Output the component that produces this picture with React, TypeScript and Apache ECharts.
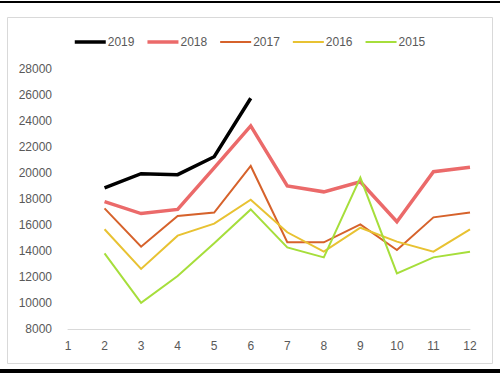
import React, { useEffect, useRef } from "react";
import * as echarts from "echarts";

const months = ["1", "2", "3", "4", "5", "6", "7", "8", "9", "10", "11", "12"];
const s2019 = [null, 18850, 19950, 19870, 21250, 25750, null, null, null, null, null, null];
const s2018 = [null, 17800, 16880, 17200, 20400, 23620, 19000, 18550, 19330, 16250, 20100, 20440];
const s2017 = [null, 17280, 14330, 16690, 16960, 20540, 14670, 14670, 16050, 14080, 16590, 16970];
const s2016 = [null, 15670, 12620, 15180, 16100, 17950, 15440, 13950, 15790, 14720, 13950, 15670];
const s2015 = [null, 13820, 10020, 12080, 14600, 17200, 14280, 13510, 19640, 12280, 13510, 13950];
const yTicks = { min: 8000, max: 28000, interval: 2000 };

const thick = "path://M0,0h31v3.5h-31z";
const thin = "path://M0,0h31v2h-31z";

export default function App() {
  const ref = useRef<HTMLDivElement>(null);
  useEffect(() => {
    const chart = echarts.init(ref.current!, null, { renderer: "svg" });
    const mk = (name: string, data: any[], color: string, width: number) => ({
      name,
      type: "line",
      data,
      symbol: "none",
      showSymbol: false,
      connectNulls: false,
      lineStyle: { color, width, join: "miter" },
      itemStyle: { color },
    });
    chart.setOption({
      animation: false,
      backgroundColor: "#ffffff",
      textStyle: { fontFamily: "Liberation Sans, Arial, sans-serif" },
      graphic: [
        { type: "line", shape: { x1: 0, y1: 2, x2: 500, y2: 2 }, style: { stroke: "#000", lineWidth: 2 } },
        { type: "line", shape: { x1: 0, y1: 371, x2: 500, y2: 371 }, style: { stroke: "#000", lineWidth: 4 } },
        { type: "rect", shape: { x: 7.5, y: 17.5, width: 485, height: 346 }, style: { fill: "none", stroke: "#D9D9D9", lineWidth: 1 } },
      ],
      legend: {
        top: 31,
        left: "center",
        itemWidth: 31,
        itemHeight: 12,
        itemGap: 13,
        symbolKeepAspect: true,
        textStyle: { color: "#595959", fontSize: 12, padding: [0, 0, 0, -3] },
        data: [
          { name: "2019", icon: thick },
          { name: "2018", icon: thick },
          { name: "2017", icon: thin },
          { name: "2016", icon: thin },
          { name: "2015", icon: thin },
        ],
      },
      grid: { left: 68, right: 30, top: 69, bottom: 46, containLabel: false },
      xAxis: {
        type: "category",
        data: months,
        boundaryGap: false,
        axisLine: { lineStyle: { color: "#D9D9D9", width: 1 } },
        axisTick: { show: false },
        axisLabel: { color: "#595959", fontSize: 12, margin: 11 },
        splitLine: { show: false },
      },
      yAxis: {
        type: "value",
        min: yTicks.min,
        max: yTicks.max,
        interval: yTicks.interval,
        axisLine: { show: false },
        axisTick: { show: false },
        axisLabel: { color: "#595959", fontSize: 12, margin: 16, formatter: (v: number) => String(v) },
        splitLine: { show: false },
      },
      series: [
        mk("2019", s2019, "#000000", 3.5),
        mk("2018", s2018, "#EB6A6A", 3.5),
        mk("2017", s2017, "#D6622B", 2),
        mk("2016", s2016, "#E8C232", 2),
        mk("2015", s2015, "#A6DE3B", 2),
      ],
    });
    return () => chart.dispose();
  }, []);
  return <div ref={ref} style={{ position: "fixed", left: 0, top: 0, width: 500, height: 375 }} />;
}
